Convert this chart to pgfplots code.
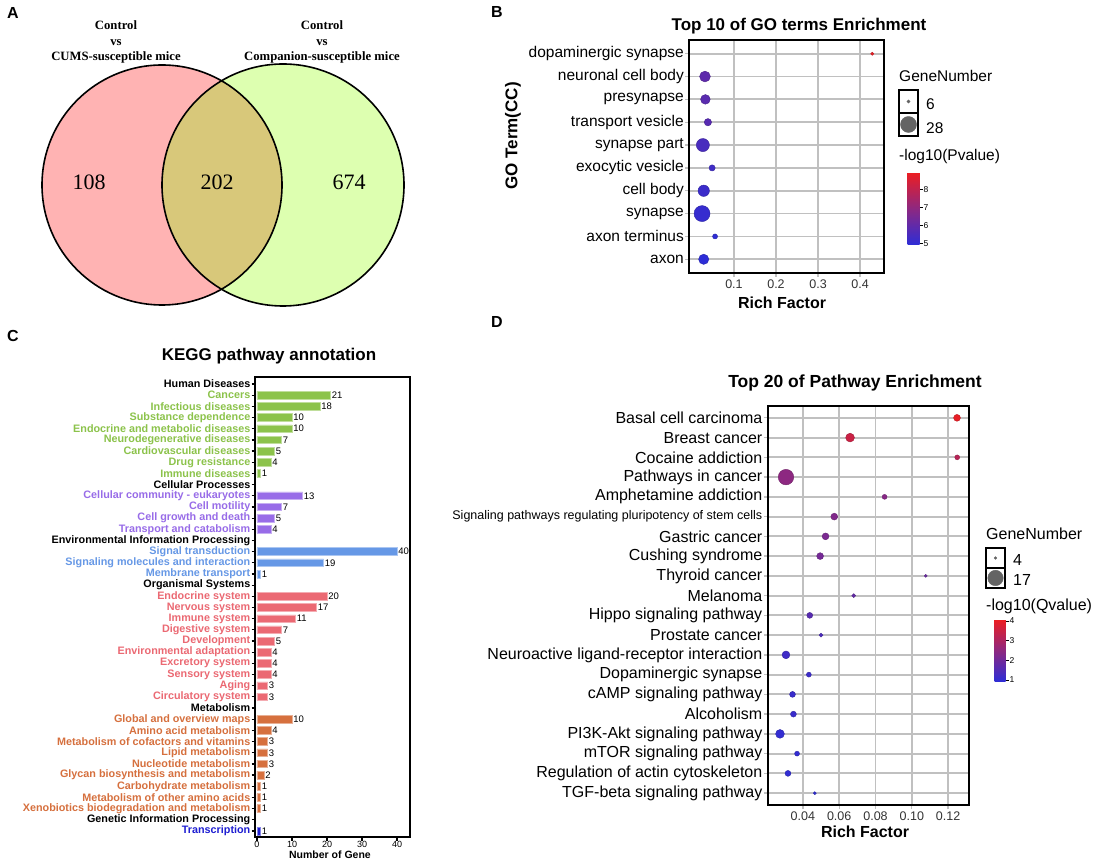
\documentclass[border=0pt]{standalone}
\usepackage{fontspec}
\setmainfont{Liberation Sans}
\newfontfamily\timesfont{Liberation Serif}
\usepackage{pgfplots}
\usepackage{pgfplotstable}
\pgfplotsset{compat=1.18}
\pgfplotsset{/pgf/number format/assume math mode=true}

\definecolor{vpink}{RGB}{255,179,179}
\definecolor{vgreen}{RGB}{221,255,176}
\definecolor{volive}{RGB}{216,200,122}
\definecolor{gridc}{RGB}{192,192,192}
\definecolor{cgreen}{RGB}{140,195,75}
\definecolor{cpurple}{RGB}{152,108,232}
\definecolor{cblue}{RGB}{102,152,230}
\definecolor{cred}{RGB}{235,105,115}
\definecolor{corange}{RGB}{214,112,62}
\definecolor{cdblue}{RGB}{30,30,210}
\definecolor{keyc}{RGB}{100,100,100}

\newcommand{\fs}[1]{\fontsize{#1}{#1}\selectfont}
\newcommand{\cG}[1]{\textcolor{cgreen}{#1}}
\newcommand{\cP}[1]{\textcolor{cpurple}{#1}}
\newcommand{\cB}[1]{\textcolor{cblue}{#1}}
\newcommand{\cR}[1]{\textcolor{cred}{#1}}
\newcommand{\cO}[1]{\textcolor{corange}{#1}}
\newcommand{\cT}[1]{\textcolor{cdblue}{#1}}

% Panel B: GO terms
\pgfplotstableread{
pos rf n p
10 0.429 6 8.9
9 0.031 19 5.95
8 0.032 17 5.85
7 0.038 13 5.8
6 0.026 23 5.5
5 0.048 11 5.3
4 0.028 20 5.2
3 0.024 28 5.1
2 0.055 9 4.95
1 0.028 18 4.9
}\goData

% Panel D: KEGG enrichment
\pgfplotstableread{
pos rf n q
20 0.1249 8 4.0
19 0.066 10 3.5
18 0.125 6 3.2
17 0.0307 17 2.5
16 0.085 6 2.4
15 0.0573 8 2.3
14 0.0525 8 2.2
13 0.0495 8 2.1
12 0.1077 4 1.9
11 0.068 5 1.8
10 0.0438 7 1.6
9 0.050 5 1.4
8 0.0307 9 1.2
7 0.0433 6 1.15
6 0.0343 7 1.1
5 0.0348 7 1.1
4 0.0274 10 1.0
3 0.0368 6 1.0
2 0.0318 7 0.98
1 0.0466 4 0.95
}\kData

% Panel C: KEGG annotation
\pgfplotstableread{
pos v
40 21
39 18
38 10
37 10
36 7
35 5
34 4
33 1
}\cGreen
\pgfplotstableread{
pos v
31 13
30 7
29 5
28 4
}\cPurple
\pgfplotstableread{
pos v
26 40
25 19
24 1
}\cBlue
\pgfplotstableread{
pos v
22 20
21 17
20 11
19 7
18 5
17 4
16 4
15 4
14 3
13 3
}\cRed
\pgfplotstableread{
pos v
11 10
10 4
9 3
8 3
7 3
6 2
5 1
4 1
3 1
}\cOrange
\pgfplotstableread{
pos v
1 1
}\cTrans

\begin{document}
\begin{tikzpicture}
\fill[white] (0pt,0pt) rectangle (1095pt,862pt);
\path[use as bounding box] (0pt,0pt) rectangle (1095pt,862pt);

% panel letters
\node[font=\bfseries\fs{16}] at (13pt,849pt) {A};
\node[font=\bfseries\fs{16}] at (497pt,850pt) {B};
\node[font=\bfseries\fs{16}] at (13pt,526pt) {C};
\node[font=\bfseries\fs{16}] at (497pt,540pt) {D};

% ---------------- Panel A: Venn ----------------
\begin{axis}[at={(0pt,532pt)}, anchor=south west, scale only axis,
  width=480pt, height=330pt, xmin=0, xmax=480, ymin=0, ymax=330,
  hide axis, clip=false]
\fill[vpink] (axis cs:162,145) circle[radius=120];
\fill[vgreen] (axis cs:283,145) circle[radius=121];
\begin{scope}
\clip (axis cs:162,145) circle[radius=120];
\fill[volive] (axis cs:283,145) circle[radius=121];
\end{scope}
\draw[line width=1.6pt] (axis cs:162,145) circle[radius=120];
\draw[line width=1.6pt] (axis cs:283,145) circle[radius=121];
\node[font={\timesfont\bfseries\fontsize{12.7}{15.5}\selectfont}, align=center] at (axis cs:116,288) {Control\\vs\\CUMS-susceptible mice};
\node[font={\timesfont\bfseries\fontsize{12.7}{15.5}\selectfont}, align=center] at (axis cs:322,288) {Control\\vs\\Companion-susceptible mice};
\node[font={\timesfont\fs{22}}] at (axis cs:89,148) {108};
\node[font={\timesfont\fs{22}}] at (axis cs:217,148) {202};
\node[font={\timesfont\fs{22}}] at (axis cs:349,148) {674};
\end{axis}

% ---------------- Panel B ----------------
\node[font=\bfseries\fs{17}] at (799pt,836pt) {Top 10 of GO terms Enrichment};
\node[font=\bfseries\fs{17}, rotate=90] at (513pt,726pt) {GO Term(CC)};
\node[font=\bfseries\fs{16}] at (782pt,559pt) {Rich Factor};
\node[font=\fs{15.5}, anchor=west, inner sep=0pt] at (899pt,786pt) {GeneNumber};
\node[font=\fs{15.5}, anchor=west, inner sep=0pt] at (926pt,758pt) {6};
\node[font=\fs{15.5}, anchor=west, inner sep=0pt] at (926pt,734pt) {28};
\node[font=\fs{15.5}, anchor=west, inner sep=0pt] at (899pt,705pt) {-log10(Pvalue)};

\begin{axis}[at={(689pt,589pt)}, anchor=south west, scale only axis,
  width=195pt, height=233pt,
  xmin=-0.007, xmax=0.457, ymin=0.4, ymax=10.6,
  xtick={0.1,0.2,0.3,0.4}, xticklabels={0.1,0.2,0.3,0.4},
  ytick={1,...,10},
  yticklabels={axon, axon terminus, synapse, cell body, exocytic vesicle, synapse part, transport vesicle, presynapse, neuronal cell body, dopaminergic synapse},
  grid=major, major grid style={gridc, line width=1.8pt},
  tick pos=left, tick align=outside, major tick length=4pt,
  tick style={gridc, line width=1.3pt},
  axis line style={black, line width=1.6pt},
  yticklabel style={font=\fs{15.5}, inner sep=1pt},
  xticklabel style={font=\fs{12.5}, text=black!80, inner sep=3pt},
  colormap={br}{rgb255=(45,45,215) rgb255=(140,40,130) rgb255=(235,30,35)},
  point meta min=4.9, point meta max=8.95,
  colorbar,
  colorbar style={at={(parent axis.north east)}, anchor=north west,
    xshift=15pt, yshift=-133pt, scale only axis, width=12pt, height=72pt,
    ytick={5,6,7,8}, yticklabels={5,6,7,8},
    yticklabel style={font=\fs{8.5}, inner sep=1pt},
    ytick pos=right, tick align=outside, major tick length=3pt,
    tick style={black, line width=0.9pt}, axis line style={draw=none}},
  clip=false]
\addplot[scatter, only marks, mark=*, scatter src=explicit,
  visualization depends on={(3.3+(\thisrow{n}-6)*12.7/22)/2 \as \msz},
  scatter/@pre marker code/.append style={/tikz/mark size=\msz}]
  table[x=rf, y=pos, meta=p] {\goData};
\end{axis}

% legend key B
\begin{axis}[at={(899pt,726pt)}, anchor=south west, scale only axis,
  width=19pt, height=46pt, hide axis, xmin=0, xmax=1, ymin=0, ymax=2, clip=false]
\draw[line width=1.2pt, black, fill=white] (axis cs:0,0) rectangle (axis cs:1,1);
\draw[line width=1.2pt, black, fill=white] (axis cs:0,1) rectangle (axis cs:1,2);
\addplot[only marks, mark=*, mark size=1.65pt, keyc] coordinates {(0.5,1.5)};
\addplot[only marks, mark=*, mark size=8pt, keyc] coordinates {(0.5,0.5)};
\end{axis}

% ---------------- Panel C ----------------
\node[font=\bfseries\fs{17}] at (269pt,506pt) {KEGG pathway annotation};
\node[font=\bfseries\fs{10.5}] at (330pt,7pt) {Number of Gene};

\begin{axis}[at={(255pt,25pt)}, anchor=south west, scale only axis,
  width=155pt, height=460pt,
  xmin=-0.57, xmax=43.7, ymin=0.46, ymax=41.63,
  xtick={0,10,20,30,40}, xticklabels={0,10,20,30,40},
  ytick={1,...,41},
  yticklabels={\cT{Transcription}, Genetic Information Processing,
    \cO{Xenobiotics biodegradation and metabolism}, \cO{Metabolism of other amino acids},
    \cO{Carbohydrate metabolism}, \cO{Glycan biosynthesis and metabolism},
    \cO{Nucleotide metabolism}, \cO{Lipid metabolism},
    \cO{Metabolism of cofactors and vitamins}, \cO{Amino acid metabolism},
    \cO{Global and overview maps}, Metabolism,
    \cR{Circulatory system}, \cR{Aging}, \cR{Sensory system}, \cR{Excretory system},
    \cR{Environmental adaptation}, \cR{Development}, \cR{Digestive system},
    \cR{Immune system}, \cR{Nervous system}, \cR{Endocrine system}, Organismal Systems,
    \cB{Membrane transport}, \cB{Signaling molecules and interaction}, \cB{Signal transduction},
    Environmental Information Processing,
    \cP{Transport and catabolism}, \cP{Cell growth and death}, \cP{Cell motility},
    \cP{Cellular community - eukaryotes}, Cellular Processes,
    \cG{Immune diseases}, \cG{Drug resistance}, \cG{Cardiovascular diseases},
    \cG{Neurodegenerative diseases}, \cG{Endocrine and metabolic diseases},
    \cG{Substance dependence}, \cG{Infectious diseases}, \cG{Cancers}, Human Diseases},
  tick pos=left, tick align=outside, major tick length=3.5pt,
  tick style={black, line width=1.2pt},
  axis line style={black, line width=1.7pt},
  yticklabel style={font=\bfseries\fs{10.8}, inner sep=1pt},
  xticklabel style={font=\fs{9}, inner sep=1pt},
  xbar, bar width=7.7pt, bar shift=0pt,
  point meta=x, nodes near coords, nodes near coords align={horizontal},
  nodes near coords style={font=\fs{9.5}, black, inner sep=1pt},
  clip=false]
\addplot[bar shift=0pt, fill=cgreen, draw=cgreen!55!white, line width=0.6pt] table[x=v,y=pos] {\cGreen};
\addplot[bar shift=0pt, fill=cpurple, draw=cpurple!55!white, line width=0.6pt] table[x=v,y=pos] {\cPurple};
\addplot[bar shift=0pt, fill=cblue, draw=cblue!55!white, line width=0.6pt] table[x=v,y=pos] {\cBlue};
\addplot[bar shift=0pt, fill=cred, draw=cred!55!white, line width=0.6pt] table[x=v,y=pos] {\cRed};
\addplot[bar shift=0pt, fill=corange, draw=corange!55!white, line width=0.6pt] table[x=v,y=pos] {\cOrange};
\addplot[bar shift=0pt, fill=cdblue, draw=cdblue!55!white, line width=0.6pt] table[x=v,y=pos] {\cTrans};
\end{axis}

% ---------------- Panel D ----------------
\node[font=\bfseries\fs{17.5}] at (855pt,479pt) {Top 20 of Pathway Enrichment};
\node[font=\bfseries\fs{16}] at (865pt,30pt) {Rich Factor};
\node[font=\fs{16}, anchor=west, inner sep=0pt] at (986pt,328pt) {GeneNumber};
\node[font=\fs{16}, anchor=west, inner sep=0pt] at (1013pt,302pt) {4};
\node[font=\fs{16}, anchor=west, inner sep=0pt] at (1013pt,282pt) {17};
\node[font=\fs{16}, anchor=west, inner sep=0pt] at (986pt,256pt) {-log10(Qvalue)};

\begin{axis}[at={(768pt,57pt)}, anchor=south west, scale only axis,
  width=201pt, height=399pt,
  xmin=0.0208, xmax=0.1315, ymin=0.4, ymax=20.6,
  xtick={0.04,0.06,0.08,0.10,0.12}, xticklabels={0.04,0.06,0.08,0.10,0.12},
  ytick={1,...,20},
  yticklabels={TGF-beta signaling pathway, Regulation of actin cytoskeleton,
    mTOR signaling pathway, PI3K-Akt signaling pathway, Alcoholism,
    cAMP signaling pathway, Dopaminergic synapse,
    Neuroactive ligand-receptor interaction, Prostate cancer,
    Hippo signaling pathway, Melanoma, Thyroid cancer, Cushing syndrome,
    Gastric cancer, {\fs{12.5}Signaling pathways regulating pluripotency of stem cells},
    Amphetamine addiction, Pathways in cancer, Cocaine addiction,
    Breast cancer, Basal cell carcinoma},
  grid=major, major grid style={gridc, line width=1.8pt},
  tick pos=left, tick align=outside, major tick length=4.5pt,
  tick style={gridc, line width=1.3pt},
  axis line style={black, line width=1.6pt},
  yticklabel style={font=\fs{16}, inner sep=1pt},
  xticklabel style={font=\fs{12.5}, text=black!80, inner sep=2pt},
  colormap={br}{rgb255=(45,45,215) rgb255=(140,40,130) rgb255=(235,30,35)},
  point meta min=0.9, point meta max=4.05,
  colorbar,
  colorbar style={at={(parent axis.north east)}, anchor=north west,
    xshift=17pt, yshift=-214pt, scale only axis, width=11pt, height=62pt,
    ytick={1,2,3,4}, yticklabels={1,2,3,4},
    yticklabel style={font=\fs{8.5}, inner sep=1pt},
    ytick pos=right, tick align=outside, major tick length=3pt,
    tick style={black, line width=0.9pt}, axis line style={draw=none}},
  clip=false]
\addplot[scatter, only marks, mark=*, scatter src=explicit,
  visualization depends on={(3+(\thisrow{n}-4)*12.5/13)/2 \as \msz},
  scatter/@pre marker code/.append style={/tikz/mark size=\msz}]
  table[x=rf, y=pos, meta=q] {\kData};
\end{axis}

% legend key D
\begin{axis}[at={(986pt,274pt)}, anchor=south west, scale only axis,
  width=19pt, height=40pt, hide axis, xmin=0, xmax=1, ymin=0, ymax=2, clip=false]
\draw[line width=1.2pt, black, fill=white] (axis cs:0,0) rectangle (axis cs:1,1);
\draw[line width=1.2pt, black, fill=white] (axis cs:0,1) rectangle (axis cs:1,2);
\addplot[only marks, mark=*, mark size=1.4pt, keyc] coordinates {(0.5,1.5)};
\addplot[only marks, mark=*, mark size=7.75pt, keyc] coordinates {(0.5,0.5)};
\end{axis}

\end{tikzpicture}
\end{document}
